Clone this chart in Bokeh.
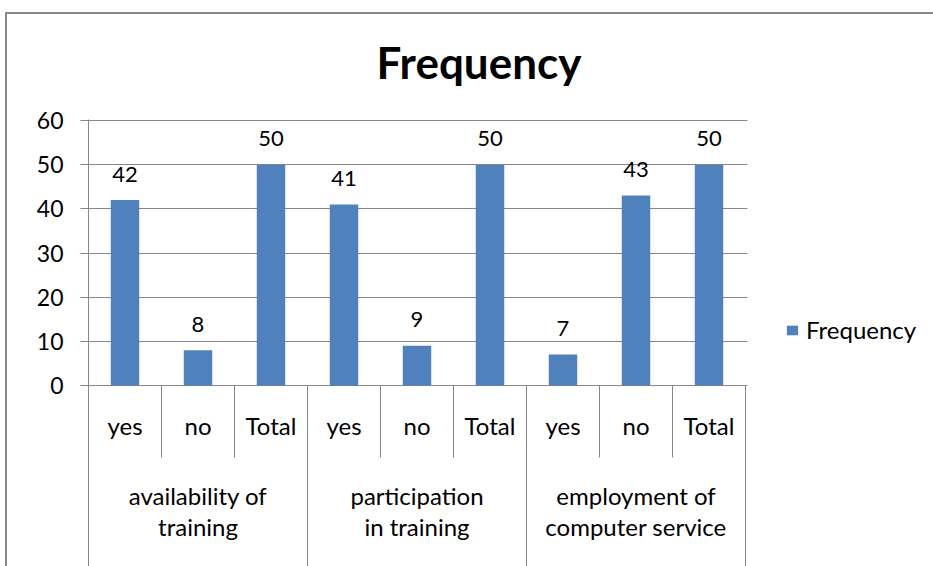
from bokeh.plotting import figure
from bokeh.models import Range1d, FixedTicker, ColumnDataSource, Legend, LegendItem
from bokeh.core.properties import value
from bokeh.embed import file_html
from bokeh.resources import INLINE

# ---------------- data ----------------
title_text = "Frequency"
series_name = "Frequency"
groups = ["availability of\ntraining", "participation\nin training", "employment of\ncomputer service"]
answers = ["yes", "no", "Total"]
frequency = [42, 8, 50, 41, 9, 50, 7, 43, 50]
y_ticks = [0, 10, 20, 30, 40, 50, 60]

# ---------------- styling ----------------
FONT = "Lato"
GRAY = "#878787"
BLUE = "#4F81BD"
PX_PER_UNIT = 265 / 60.0

n_ans = len(answers)
n = len(frequency)
x_pos = [i + 0.5 for i in range(n)]
ans_labels = [answers[i % n_ans] for i in range(n)]
group_x = [g * n_ans + n_ans / 2 for g in range(len(groups))]
group_line1 = [g.split("\n")[0] for g in groups]
group_line2 = [g.split("\n")[1] for g in groups]

src = ColumnDataSource(dict(x=x_pos, frequency=frequency,
                            label=[str(v) for v in frequency], ans=ans_labels))

def py(pixel_below_zero):
    return -pixel_below_zero / PX_PER_UNIT

p = figure(frame_width=659, frame_height=447,
           x_range=Range1d(0, n + 2 / 73.0),
           y_range=Range1d(py(181), py(-266)),
           output_backend="svg", toolbar_location=None,
           x_axis_location=None,
           min_border_left=88, min_border_right=186,
           min_border_top=119, min_border_bottom=0)
# chart-area border (top and left edges) drawn behind the transparent canvas
p.styles = {
    "background": ("linear-gradient(%s,%s) 5px 12px / 2px 100%% no-repeat, "
                   "linear-gradient(%s,%s) 5px 12px / 100%% 2px no-repeat, white")
                  % (GRAY, GRAY, GRAY, GRAY)
}

p.outline_line_color = None
p.background_fill_color = "white"
p.border_fill_color = None

# title
p.title.text = title_text
p.title.align = "left"
p.title.offset = 288
p.title.standoff = 64
p.title.text_font = FONT
p.title.text_font_size = "44px"
p.title.text_font_style = "bold"
p.title.text_color = "black"

# axes / grid
p.xgrid.visible = False
p.ygrid.ticker = FixedTicker(ticks=y_ticks)
p.ygrid.grid_line_color = GRAY
p.yaxis.ticker = FixedTicker(ticks=y_ticks)
p.yaxis.axis_line_color = GRAY
p.yaxis.major_tick_line_color = GRAY
p.yaxis.major_tick_out = 8
p.yaxis.major_tick_in = 0
p.yaxis.minor_tick_line_color = None
p.yaxis.major_label_standoff = 17
p.yaxis.major_label_text_font = FONT
p.yaxis.major_label_text_font_size = "23px"
p.yaxis.major_label_text_color = "black"

# bars
bars = p.vbar(x="x", top="frequency", bottom=0, width=0.39, source=src,
              fill_color=BLUE, line_color=None)

# value labels
p.text(x="x", y="frequency", text="label", source=src,
       text_align="center", text_baseline="alphabetic", y_offset=-26,
       text_font=value(FONT), text_font_size="22px", text_color="black")

# category labels
p.text(x="x", y=py(40), text="ans", source=src,
       text_align="center", text_baseline="alphabetic",
       text_font=value(FONT), text_font_size="24px", text_color="black")
p.text(x=group_x, y=[py(110)] * len(groups), text=group_line1,
       text_align="center", text_baseline="alphabetic",
       text_font=value(FONT), text_font_size="24px", text_color="black")
p.text(x=group_x, y=[py(141)] * len(groups), text=group_line2,
       text_align="center", text_baseline="alphabetic",
       text_font=value(FONT), text_font_size="24px", text_color="black")

# separators of the category axis
inner_b = [k for k in range(1, n) if k % n_ans != 0]
group_b = [k for k in range(n_ans, n + 1, n_ans)]
p.segment(x0=inner_b, x1=inner_b, y0=[0] * len(inner_b), y1=[py(72)] * len(inner_b),
          line_color=GRAY, line_width=1)
p.segment(x0=group_b, x1=group_b, y0=[0] * len(group_b), y1=[py(200)] * len(group_b),
          line_color=GRAY, line_width=1)

# legend
legend = Legend(items=[LegendItem(label=series_name, renderers=[bars])],
                location=(38, 222), glyph_width=14, glyph_height=12,
                label_standoff=7, label_text_font=FONT, label_text_font_size="24px",
                label_text_color="black", border_line_color=None,
                background_fill_alpha=0, padding=0, margin=0, spacing=0)
p.add_layout(legend, "right")

open("out.html", "w").write(file_html(p, INLINE))
